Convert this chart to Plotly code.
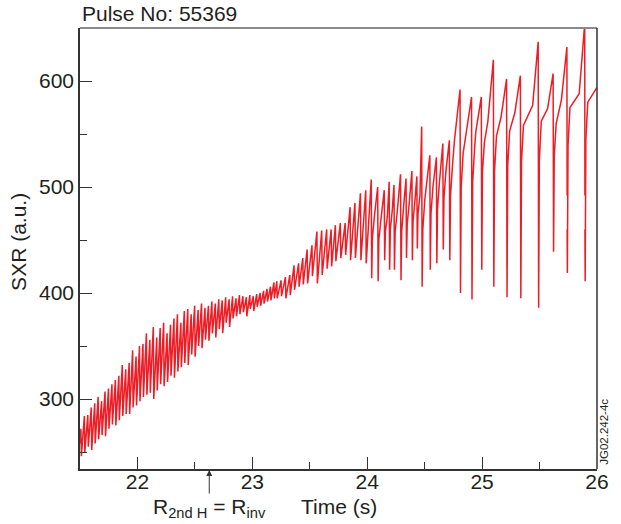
import plotly.graph_objects as go

# ---------------- data ----------------
# Early phase: small fast sawteeth (crash time, peak before crash, trough after crash)
early_t = [21.51, 21.54, 21.57, 21.60, 21.63, 21.66, 21.69, 21.72, 21.75, 21.78,
           21.81, 21.84, 21.87, 21.90, 21.93, 21.96, 21.99, 22.02, 22.05, 22.08,
           22.11, 22.14, 22.17, 22.20, 22.23, 22.26, 22.29, 22.32, 22.35, 22.38,
           22.41, 22.44, 22.47, 22.50, 22.53, 22.56, 22.59,
           22.62, 22.65, 22.68, 22.71, 22.74, 22.77, 22.80, 22.83, 22.86, 22.89,
           22.92, 22.95, 22.98, 23.01, 23.04, 23.07, 23.10, 23.13, 23.16, 23.19,
           23.215, 23.252, 23.29, 23.328, 23.365, 23.405, 23.441, 23.479, 23.521,
           23.564, 23.606, 23.649, 23.688, 23.725, 23.768, 23.81, 23.853, 23.895,
           23.943, 23.989]
early_peak = [272, 284, 285, 292, 296, 302, 298, 307, 310, 314,
              318, 322, 332, 328, 334, 346, 340, 350, 352, 362,
              356, 368, 358, 367, 372, 362, 370, 376, 380, 372,
              383, 385, 380, 388, 384, 390, 386,
              388, 392, 390, 394, 393, 396, 394, 397, 395, 398,
              397, 396, 398, 397, 399, 400, 402, 404, 406, 410,
              411, 412, 415, 417, 426, 428, 433, 441, 445,
              458, 459, 460, 460, 464, 466, 466, 481, 485,
              494, 497]
early_trough = [246, 250, 255, 252, 258, 262, 266, 265, 272, 276,
                275, 280, 284, 286, 286, 292, 294, 298, 302, 304,
                306, 300, 308, 314, 312, 316, 322, 320, 326, 330,
                334, 332, 342, 340, 350, 348, 356,
                355, 362, 358, 366, 362, 372, 368, 376, 378, 380,
                382, 378, 385, 383, 387, 388, 390, 392, 393, 395,
                395, 397, 395, 398, 403, 406, 408, 409, 416,
                409, 417, 423, 425, 430, 433, 436, 431, 433,
                431, 428]

# Late phase: larger sawteeth
# crash time, peak, trough, fast-recovery value, knee value, pre-peak level
late_t = [24.037, 24.093, 24.15, 24.193, 24.235, 24.292, 24.34, 24.391, 24.434,
          24.476, 24.547, 24.604, 24.66, 24.717,
          24.81, 24.91, 24.995, 25.10, 25.215, 25.335, 25.49, 25.62, 25.74, 25.895]
late_peak = [507, 500, 497, 505, 502, 512, 508, 515, 510,
             557, 530, 528, 541, 544,
             592, 585, 585, 620, 602, 605, 637, 607, 632, 654]
late_trough = [414, 411, 431, 422, 422, 412, 433, 431, 442,
               406, 422, 428, 441, 431,
               400, 394, 422, 406, 396, 395, 386, 439, 419, 411]
late_mid = [452, 450, 458, 460, 458, 458, 465, 468, 475,
            460, 475, 480, 490, 492,
            500, 505, 515, 515, 520, 525, 525, 530, 540, 545]
late_knee = [472, 468, 472, 478, 475, 482, 484, 488, 492,
             488, 500, 505, 515, 520,
             532, 537, 542, 548, 553, 558, 562, 560, 575, 580]
late_pre = [None, None, None, None, None, None, None, None, None,
            None, None, None, None, None,
            545, 550, 552, 562, 566, 570, 577, 574, 582, 588]
# crashes where the recorded trace has a gap (upper, lower edge of the gap)
gap_t = [25.74, 25.895]
gap_hi = [492, 492]
gap_lo = [460, 460]

start_t, start_v = 21.5, 258
end_t, end_v = 26.0, 594

# ---------------- build trace ----------------
xs, ys = [start_t], [start_v]
for t, p, tr in zip(early_t, early_peak, early_trough):
    xs += [t - 0.002, t + 0.002]
    ys += [p, tr]
for t, p, tr, m, k, pre in zip(late_t, late_peak, late_trough, late_mid, late_knee, late_pre):
    if pre is not None:
        xs.append(t - 0.05)
        ys.append(pre)
    xs.append(t - 0.002)
    ys.append(p)
    if t in gap_t:
        i = gap_t.index(t)
        xs += [t, None, t]
        ys += [gap_hi[i], None, gap_lo[i]]
    xs.append(t + 0.002)
    ys.append(tr)
    xs.append(t + 0.008)
    ys.append(m)
    xs.append(t + 0.025)
    ys.append(k)
xs.append(end_t)
ys.append(end_v)

fig = go.Figure()
fig.add_trace(go.Scatter(x=xs, y=ys, mode="lines",
                         line=dict(color="#ee1d25", width=1.5),
                         connectgaps=False, hoverinfo="skip", showlegend=False))

FONT = "Liberation Sans, Arial, Helvetica, sans-serif"
TXT = "#231f20"
AX = "#333333"
FS = 21

fig.update_layout(
    width=621, height=524,
    margin=dict(l=80, r=12, t=28, b=55),
    paper_bgcolor="white", plot_bgcolor="white",
    font=dict(family=FONT, size=FS, color=TXT),
    xaxis=dict(range=[21.5, 26], tickmode="array", tickvals=[22, 23, 24, 25, 26],
               ticks="inside", ticklen=12, tickwidth=1, tickcolor=AX,
               showline=True, linecolor=AX, linewidth=1.5,
               showgrid=False, zeroline=False, ticklabelstandoff=-7,
               tickfont=dict(family=FONT, size=FS, color=TXT),
               minor=dict(tickvals=[22.5, 23.5, 24.5, 25.5], ticks="inside",
                          ticklen=7, tickwidth=1, tickcolor=AX, showgrid=False)),
    yaxis=dict(range=[234, 650], tickmode="array", tickvals=[300, 400, 500, 600],
               ticks="inside", ticklen=12, tickwidth=1, tickcolor=AX,
               showline=True, linecolor=AX, linewidth=1.5,
               showgrid=False, zeroline=False,
               tickfont=dict(family=FONT, size=FS, color=TXT),
               minor=dict(tickvals=[250, 350, 450, 550], ticks="inside",
                          ticklen=7, tickwidth=1, tickcolor=AX, showgrid=False)),
)

# frame: grey top line, dark right line
fig.add_shape(type="line", xref="paper", yref="paper", x0=0, x1=1, y0=1, y1=1,
              line=dict(color="#8a8a8a", width=2))
fig.add_shape(type="line", xref="paper", yref="paper", x0=1, x1=1, y0=0, y1=1,
              line=dict(color=AX, width=1.5))

fig.add_annotation(text="Pulse No: 55369", xref="paper", yref="paper",
                   x=0, y=1.032, xanchor="left", yanchor="middle", showarrow=False,
                   font=dict(family=FONT, size=FS, color=TXT))
fig.add_annotation(text="SXR (a.u.)", xref="paper", yref="paper",
                   x=-0.118, y=0.515, textangle=-90, xanchor="center", yanchor="middle",
                   showarrow=False, font=dict(family=FONT, size=FS, color=TXT))
fig.add_annotation(text="Time (s)", xref="paper", yref="paper",
                   x=0.501, y=-0.086, xanchor="center", yanchor="middle",
                   showarrow=False, font=dict(family=FONT, size=FS, color=TXT))
fig.add_annotation(text="R<sub>2nd H</sub> = R<sub>inv</sub>", xref="x", yref="paper",
                   x=22.628, y=-0.088, xanchor="center", yanchor="middle",
                   showarrow=False, font=dict(family=FONT, size=FS, color=TXT))
fig.add_annotation(text="", xref="x", yref="paper", x=22.625, y=0,
                   ax=0, ay=26, axref="pixel", ayref="pixel",
                   showarrow=True, arrowhead=2, arrowsize=1.2, arrowwidth=1,
                   arrowcolor=AX, standoff=1)
fig.add_annotation(text="JG02.242-4c", xref="paper", yref="paper",
                   x=1.0132, y=0.084, textangle=-90, xanchor="center", yanchor="middle",
                   showarrow=False, font=dict(family=FONT, size=11.5, color=TXT))

fig.write_html("out.html")
